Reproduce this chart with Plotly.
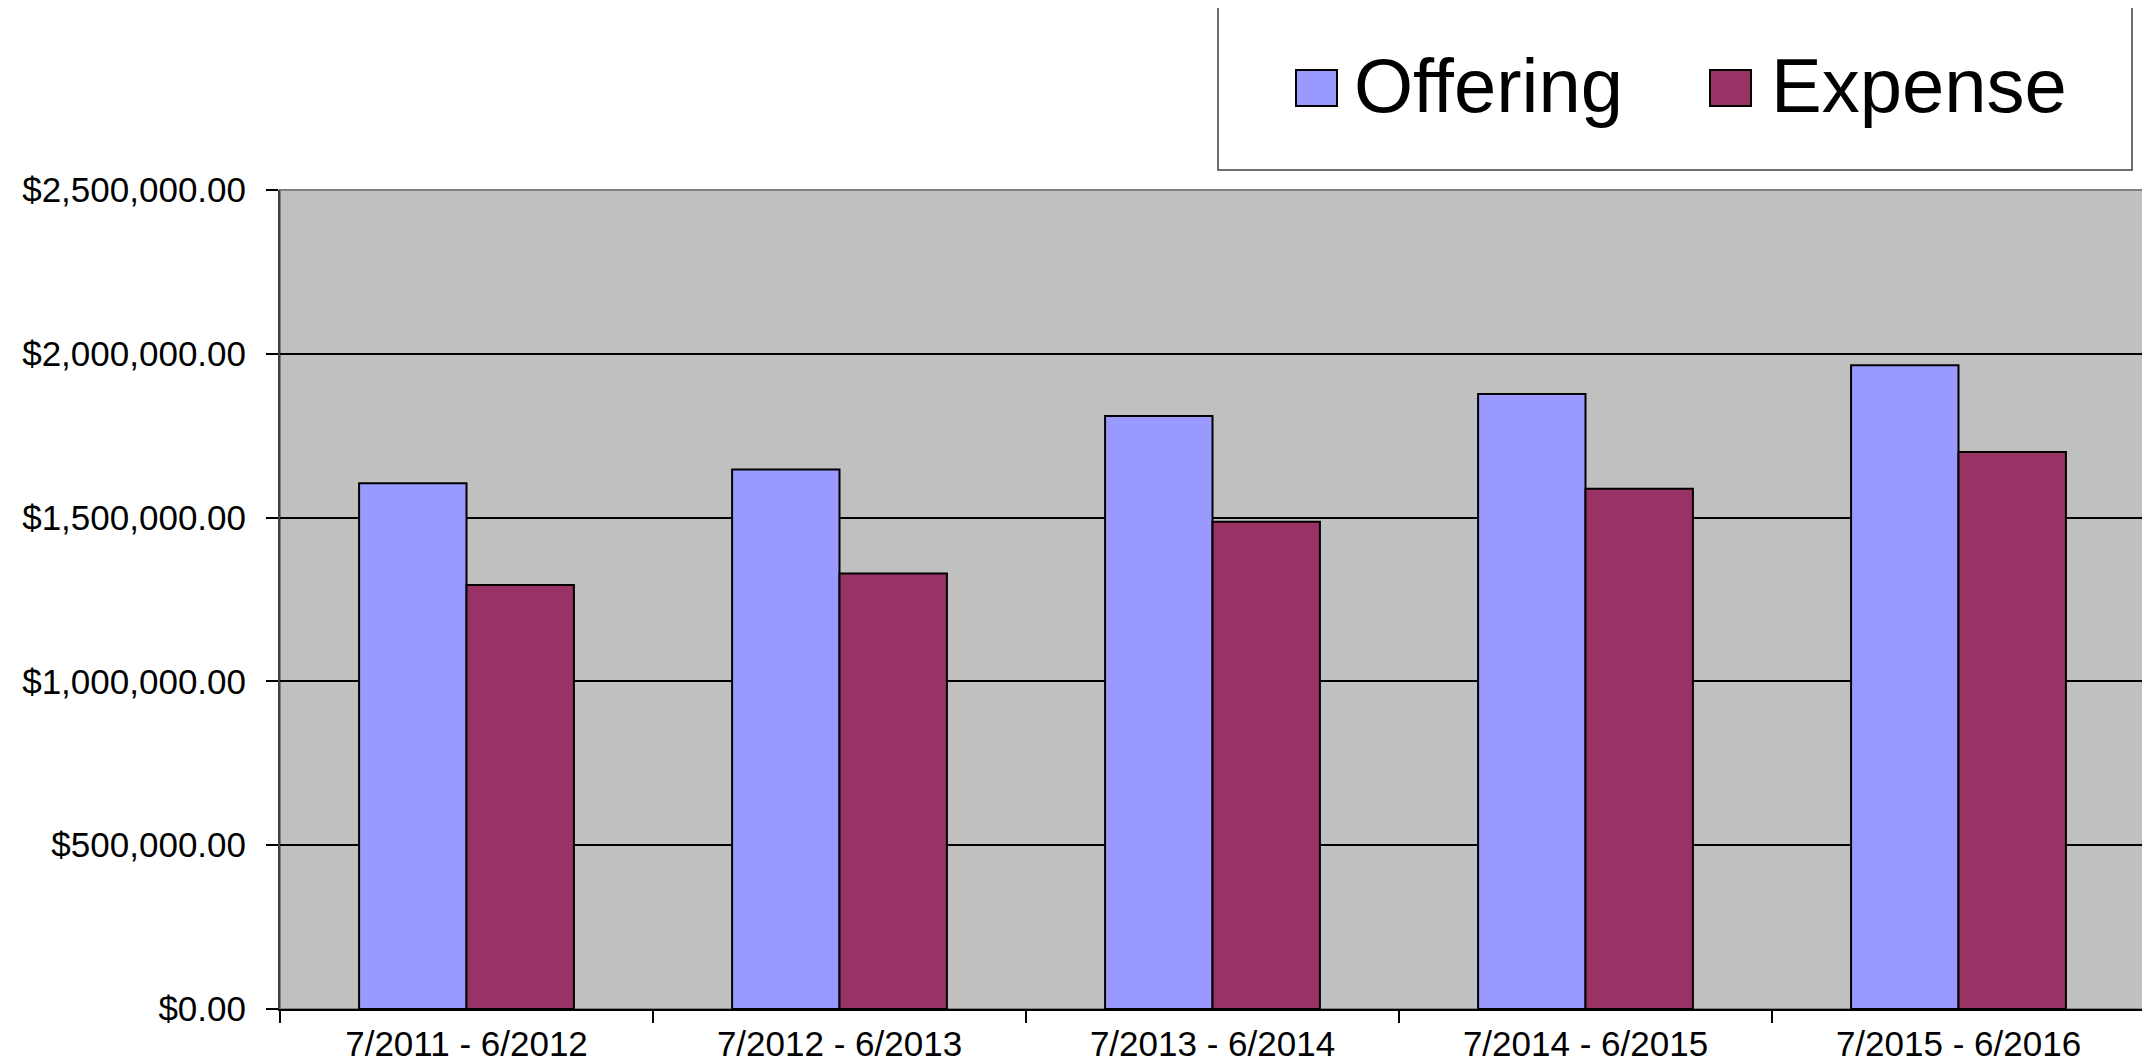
import plotly.graph_objects as go

categories = ["7/2011 - 6/2012", "7/2012 - 6/2013", "7/2013 - 6/2014", "7/2014 - 6/2015", "7/2015 - 6/2016"]
offering = [1605000, 1647000, 1810000, 1877000, 1965000]
expense = [1294000, 1329000, 1487000, 1588000, 1700000]
series_names = ["Offering", "Expense"]
series_colors = ["#9999FF", "#993366"]

# page is offset by the default 8px body margin
OFF = 8
W, H = 2150 - OFF, 1062 - OFF
L, R, T, B = 280, 2145, 190, 1009  # target plot area in page pixels


def px(x):
    return (x - L) / (R - L)


def py(y):
    return (B - y) / (B - T)


fig = go.Figure()
for name, vals, col in zip(series_names, [offering, expense], series_colors):
    fig.add_trace(go.Bar(
        x=categories, y=vals, name=name,
        marker=dict(color=col, line=dict(color="black", width=2)),
        showlegend=False,
    ))

font_family = "Liberation Sans, Arial, sans-serif"

shapes = [
    dict(type="rect", xref="paper", yref="paper", x0=0, x1=1, y0=0, y1=1,
         line=dict(color="#808080", width=2), layer="below"),
    dict(type="rect", xref="paper", yref="paper", x0=px(1218), x1=px(2132), y0=py(170), y1=py(7),
         line=dict(color="#404040", width=1.5), fillcolor="white"),
]
annotations = []
legend_items = [(1296, 1356), (1710, 1773)]
for (sx, tx), name, col in zip(legend_items, series_names, series_colors):
    shapes.append(dict(type="rect", xref="paper", yref="paper",
                       x0=px(sx), x1=px(sx + 41), y0=py(106), y1=py(70),
                       line=dict(color="black", width=2), fillcolor=col))
    annotations.append(dict(xref="paper", yref="paper", x=px(tx - 4), y=py(85),
                            text=name, showarrow=False, xanchor="left", yanchor="middle",
                            font=dict(size=76, color="black", family=font_family)))

fig.update_layout(
    width=W, height=H,
    margin=dict(l=L - OFF, r=(W + OFF) - R, t=T - OFF, b=(H + OFF) - B, pad=0),
    paper_bgcolor="white",
    plot_bgcolor="#C0C0C0",
    barmode="group",
    bargap=0.424,
    bargroupgap=0,
    showlegend=False,
    font=dict(family=font_family, color="black"),
    shapes=shapes,
    annotations=annotations,
)
fig.update_xaxes(
    type="category",
    automargin=False,
    tickson="boundaries",
    ticks="outside", ticklen=12, tickcolor="black", tickwidth=1.5,
    ticklabelstandoff=3,
    showline=True, linecolor="black", linewidth=2,
    showgrid=False,
    tickfont=dict(size=35, color="black", family=font_family),
)
fig.update_yaxes(
    automargin=False,
    range=[0, 2500000], dtick=500000, tick0=0,
    tickformat="$,.2f",
    ticks="outside", ticklen=12, tickcolor="black", tickwidth=1.5,
    ticklabelstandoff=13,
    showline=True, linecolor="#404040", linewidth=2,
    showgrid=True, gridcolor="black", gridwidth=1.5,
    zeroline=False,
    tickfont=dict(size=35, color="black", family=font_family),
)

fig.write_html("out.html")
